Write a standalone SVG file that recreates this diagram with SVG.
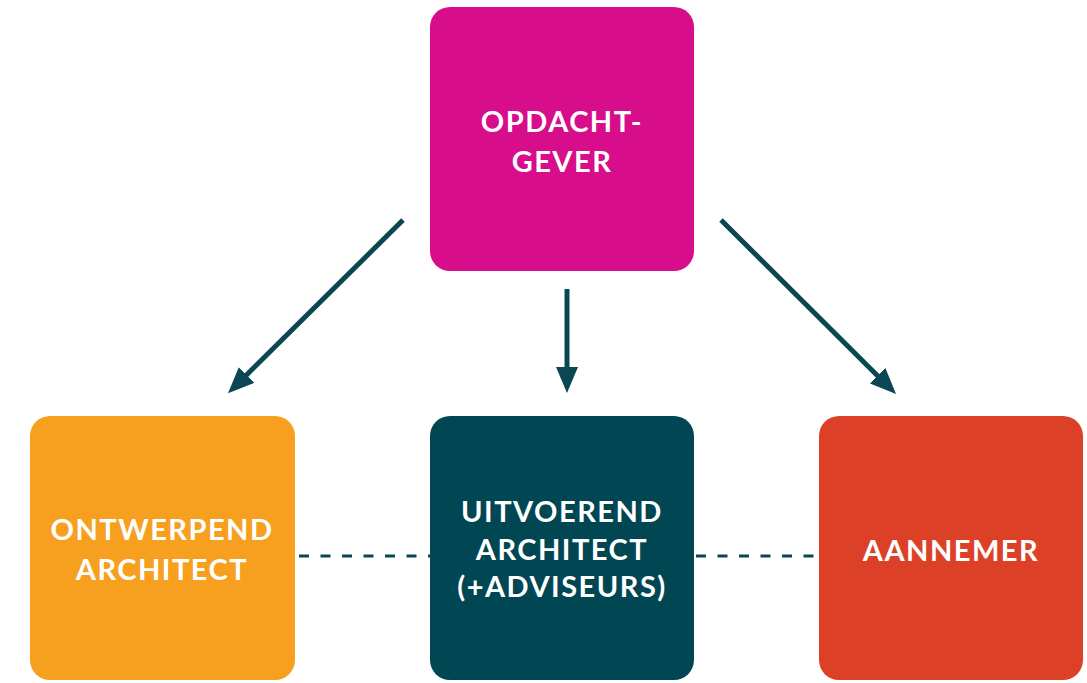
<svg xmlns="http://www.w3.org/2000/svg" width="1087" height="683" viewBox="0 0 1087 683">
<defs>
<style>
.lbl{font-family:Lato,"Open Sans","Liberation Sans",sans-serif;font-weight:700;font-size:29px;fill:#ffffff;text-anchor:middle;letter-spacing:1.5px}
.arrow{stroke:#0A4753;stroke-width:5;fill:none}
.dash{stroke:#0A4753;stroke-width:3;stroke-dasharray:10 11.5;fill:none}
</style>
<marker id="ah" viewBox="0 0 26 22" refX="1" refY="11" markerWidth="26" markerHeight="22" markerUnits="userSpaceOnUse" orient="auto">
<path d="M0,0 L26,11 L0,22 z" fill="#0A4753"/>
</marker>
</defs>
<rect width="1087" height="683" fill="#ffffff"/>
<g id="connectors">
<line class="arrow" x1="403" y1="220" x2="245.8" y2="375.7" marker-end="url(#ah)"/>
<line class="arrow" x1="567" y1="289" x2="567" y2="368" marker-end="url(#ah)"/>
<line class="arrow" x1="721" y1="220" x2="878.3" y2="376.4" marker-end="url(#ah)"/>
<line class="dash" x1="299" y1="556" x2="430" y2="556"/>
<line class="dash" x1="696" y1="556" x2="819" y2="556"/>
</g>
<g id="opdachtgever">
<rect x="430" y="7" width="264" height="264" rx="20" fill="#D80D8B"/>
<text class="lbl" x="562" y="132">OPDACHT-</text>
<text class="lbl" x="562" y="172">GEVER</text>
</g>
<g id="ontwerpend-architect">
<rect x="30" y="416" width="265" height="264" rx="20" fill="#F7A01F"/>
<text class="lbl" x="162" y="540">ONTWERPEND</text>
<text class="lbl" x="162" y="580">ARCHITECT</text>
</g>
<g id="uitvoerend-architect">
<rect x="430" y="416" width="264" height="264" rx="20" fill="#014653"/>
<text class="lbl" x="562" y="522">UITVOEREND</text>
<text class="lbl" x="562" y="560">ARCHITECT</text>
<text class="lbl" x="562" y="597">(+ADVISEURS)</text>
</g>
<g id="aannemer">
<rect x="819" y="416" width="264" height="264" rx="20" fill="#DC4128"/>
<text class="lbl" x="951" y="561">AANNEMER</text>
</g>
</svg>
